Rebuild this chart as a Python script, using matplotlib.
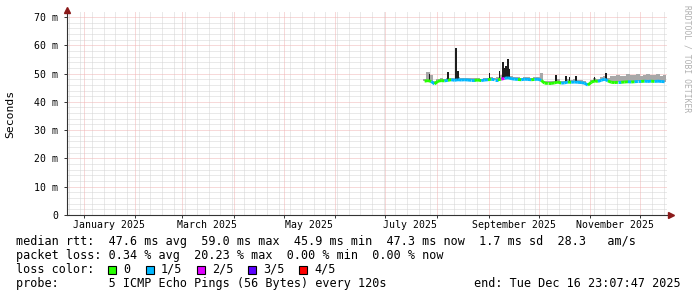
import numpy as np
import matplotlib
matplotlib.use("Agg")
import matplotlib.pyplot as plt
import matplotlib.dates as mdates
from matplotlib.collections import LineCollection
from matplotlib.patches import Rectangle
from datetime import datetime, timedelta

# time window of the graph (last 360 days)
t_end = datetime(2025, 12, 16, 23, 7, 47)
t_start = t_end - timedelta(days=360)

# median rtt (ms), one value every 2 days starting Jul 24 2025
med_start = datetime(2025, 7, 24, 12, 0)
median = [47.3, 47.5, 47.2, 46.3, 47.3, 47.5, 47.4, 47.6, 47.8, 47.6,
          47.8, 47.7, 47.8, 47.7, 47.6, 47.6, 47.7, 47.5, 47.7, 47.8,
          48.0, 47.8, 47.8, 48.0, 48.3, 48.5, 48.2, 48.0, 47.9, 47.8,
          48.0, 47.9, 47.8, 47.9, 48.0, 47.6, 46.6, 46.5, 46.5, 46.7,
          47.0, 46.6, 46.7, 47.0, 46.9, 47.0, 46.9, 46.8, 46.6, 45.9,
          46.9, 47.4, 47.2, 47.6, 48.0, 47.4, 46.9, 46.8, 46.9, 46.9,
          47.0, 47.1, 47.0, 47.1, 47.2, 47.2, 47.3, 47.2, 47.3, 47.2,
          47.3, 47.2, 47.1]
# loss code per point (0 -> 0, 1 -> 1/5, 2 -> 2/5 ...)
loss = [0, 0, 1, 0, 0, 0, 1, 0, 1, 1,
        1, 1, 1, 1, 1, 0, 0, 1, 1, 0,
        1, 1, 0, 2, 1, 1, 1, 1, 0, 1,
        1, 1, 0, 1, 1, 0, 0, 0, 0, 0,
        0, 1, 1, 0, 1, 1, 1, 1, 1, 0,
        0, 0, 1, 1, 1, 0, 0, 0, 1, 0,
        0, 1, 0, 1, 1, 0, 1, 1, 0, 1,
        1, 1, 1]
# light smoke top (ms)
smoke_hi = [48.0, 50.6, 49.5, 47.5, 48.2, 48.3, 48.2, 48.5, 48.5, 48.5,
            48.6, 48.4, 48.5, 48.4, 48.3, 48.3, 48.4, 48.2, 48.4, 48.5,
            48.8, 48.5, 48.6, 49.5, 49.2, 49.3, 49.0, 48.8, 48.6, 48.5,
            48.7, 48.6, 48.5, 48.6, 48.7, 50.2, 47.4, 47.2, 47.2, 47.5,
            48.0, 47.4, 47.5, 48.0, 47.7, 48.0, 47.7, 47.6, 47.4, 46.8,
            47.8, 48.4, 48.2, 48.6, 49.2, 48.4, 49.3, 49.0, 49.6, 49.2,
            49.0, 49.7, 49.4, 49.5, 49.8, 49.3, 49.6, 49.8, 49.4, 49.6,
            49.7, 49.3, 49.4]

# dense smoke spikes
spike_dates = ["2025-07-27", "2025-08-07", "2025-08-12", "2025-08-13",
               "2025-09-01", "2025-09-07", "2025-09-09", "2025-09-10",
               "2025-09-11", "2025-09-12", "2025-09-13", "2025-10-11",
               "2025-10-17", "2025-10-19", "2025-10-23", "2025-11-03",
               "2025-11-10"]
spike_top = [50.0, 50.7, 59.0, 51.0,
             50.3, 51.0, 54.2, 52.0,
             52.5, 55.0, 51.5, 49.5,
             49.1, 48.8, 49.0, 48.9,
             50.1]

loss_labels = ["0", "1/5", "2/5", "3/5", "4/5"]
loss_colors = ["#26ff00", "#00b8ff", "#e000ff", "#5a00ff", "#ff0000"]

y_ticks = [0, 10, 20, 30, 40, 50, 60, 70]
y_labels = ["0", "10 m", "20 m", "30 m", "40 m", "50 m", "60 m", "70 m"]
month_labels = ["January 2025", "March 2025", "May 2025", "July 2025",
                "September 2025", "November 2025"]

legend_rtt = "median rtt:  47.6 ms avg  59.0 ms max  45.9 ms min  47.3 ms now  1.7 ms sd  28.3   am/s"
legend_loss = "packet loss: 0.34 % avg  20.23 % max  0.00 % min  0.00 % now"
legend_probe = "probe:       5 ICMP Echo Pings (56 Bytes) every 120s"
legend_end = "end: Tue Dec 16 23:07:47 2025"

W, H = 697, 297
mono = "DejaVu Sans Mono"
plt.rcParams["font.family"] = mono

fig = plt.figure(figsize=(W / 100, H / 100), dpi=100)
fig.patch.set_facecolor("white")
ax = fig.add_axes([67 / W, (H - 215) / H, 600 / W, 203 / H])

med_dates = [med_start + timedelta(days=2 * i) for i in range(len(median))]
mx = mdates.date2num(med_dates)
med = np.array(median)
sx = mdates.date2num([datetime.strptime(d, "%Y-%m-%d") + timedelta(hours=12) for d in spike_dates])

# grid (dotted, rrdtool style)
mgrid = "#f0b4b4"
grid = "#d4d4d4"
for m in range(1, 13):
    ax.axvline(mdates.date2num(datetime(2025, m, 1)), color=mgrid, lw=0.72,
               ls=(0, (1, 1)), zorder=1)
wk = datetime(2024, 12, 23)
while wk < t_end:
    if wk.day != 1:
        ax.axvline(mdates.date2num(wk), color=grid, lw=0.72, ls=(0, (1, 1)), zorder=0.5)
    wk += timedelta(days=7)
for v in range(2, 72, 2):
    if v % 10 == 0:
        ax.axhline(v, color=mgrid, lw=0.72, ls=(0, (1, 1)), zorder=1)
    else:
        ax.axhline(v, color=grid, lw=0.72, ls=(0, (1, 1)), zorder=0.5)

# smoke
ax.bar(mx, np.array(smoke_hi) - med, bottom=med, width=2.0, color="#a8a8a8",
       lw=0, zorder=2)
sbase = np.interp(sx, mx, med)
ax.bar(sx, np.array(spike_top) - sbase, bottom=sbase, width=1.1, color="#1e1e1e",
       lw=0, zorder=3)

# median line coloured by loss
pts = np.column_stack([mx, med])
segs = [pts[i:i + 2] for i in range(len(pts) - 1)]
lc = LineCollection(segs, colors=[loss_colors[c] for c in loss[:-1]], linewidths=2.1,
                    zorder=4, capstyle="butt")
ax.add_collection(lc)

ax.set_xlim(mdates.date2num(t_start), mdates.date2num(t_end))
ax.set_ylim(0, 71.75)

# axes styling
for s in ["top", "right"]:
    ax.spines[s].set_visible(False)
for s in ["left", "bottom"]:
    ax.spines[s].set_color("#333333")
    ax.spines[s].set_linewidth(0.8)

ax.set_yticks(y_ticks, y_labels)
ax.tick_params(axis="y", length=2.5, width=0.7, color="#333333", pad=4, labelsize=7.1)

label_pos = [mdates.date2num(datetime(2025, m, 16)) for m in [1, 3, 5, 7, 9, 11]]
ax.set_xticks(label_pos, month_labels)
ax.tick_params(axis="x", length=0, pad=3.5, labelsize=7.1)
minor = [mdates.date2num(datetime(2025, m, 1)) for m in range(1, 13)]
ax.set_xticks(minor, minor=True)
ax.tick_params(axis="x", which="minor", length=2.5, width=0.7, color="#333333")

# arrows
ax.plot([0], [1.012], marker="^", ms=4, color="#8b1a1a", transform=ax.transAxes,
        clip_on=False, zorder=6)
ax.plot([1.006], [0], marker=">", ms=4, color="#8b1a1a", transform=ax.transAxes,
        clip_on=False, zorder=6)

fig.text(10.5 / W, (H - 113.5) / H, "Seconds", rotation=90, ha="center", va="center",
         fontsize=8.2, family=mono)
fig.text(687 / W, (H - 5) / H, "RRDTOOL / TOBI OETIKER", rotation=270, ha="center",
         va="top", fontsize=5.8, color="#b0b0b0", family=mono)

fs = 8.45
fig.text(16 / W, (H - 241.5) / H, legend_rtt, ha="left", va="center", fontsize=fs)
fig.text(16 / W, (H - 255.5) / H, legend_loss, ha="left", va="center", fontsize=fs)
fig.text(16 / W, (H - 269.5) / H, "loss color:", ha="left", va="center", fontsize=fs)
fig.text(16 / W, (H - 283.5) / H, legend_probe, ha="left", va="center", fontsize=fs)
fig.text(681 / W, (H - 283.5) / H, legend_end, ha="right", va="center", fontsize=fs)

box_x = [108, 146, 197, 248, 299]
for bx, lab, col in zip(box_x, loss_labels, loss_colors):
    fig.patches.append(Rectangle((bx / W, (H - 273.5) / H), 8 / W, 8 / H, facecolor=col,
                                 edgecolor="black", lw=0.8, transform=fig.transFigure))
    fig.text((bx + 15) / W, (H - 269.5) / H, lab, ha="left", va="center", fontsize=fs)

fig.savefig("out.png", dpi=100)
